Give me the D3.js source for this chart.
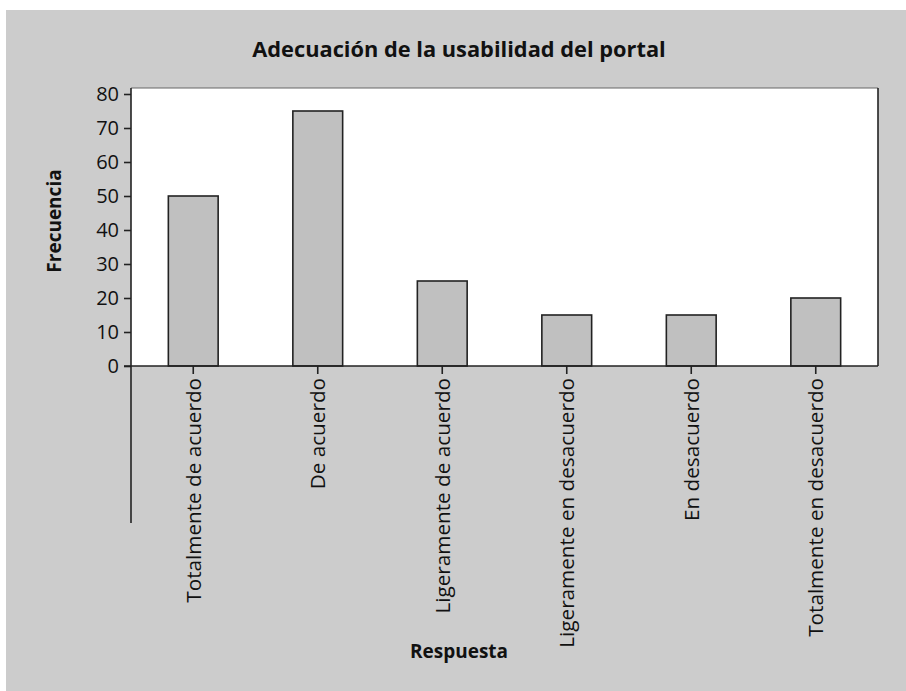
<!DOCTYPE html>
<html>
<head>
<meta charset="utf-8">
<script src="https://cdn.jsdelivr.net/npm/d3@7/dist/d3.min.js"></script>
<style>
  html, body { margin: 0; padding: 0; background: #ffffff; }
  svg { display: block; }
  text { font-family: "Open Sans", "Noto Sans", sans-serif; fill: #111; }
</style>
</head>
<body>
<svg id="chart" width="906" height="691"></svg>
<script>
const categories = [
  "Totalmente de acuerdo",
  "De acuerdo",
  "Ligeramente de acuerdo",
  "Ligeramente en desacuerdo",
  "En desacuerdo",
  "Totalmente en desacuerdo"
];
const frequencies = [50, 75, 25, 15, 15, 20];
const yTicks = [0, 10, 20, 30, 40, 50, 60, 70, 80];
const title = "Adecuación de la usabilidad del portal";
const xTitle = "Respuesta";
const yTitle = "Frecuencia";

const svg = d3.select("#chart");
const plotLeft = 131, plotRight = 878, plotTop = 88, zeroY = 366;

svg.append("rect").attr("x", 6).attr("y", 10).attr("width", 900).attr("height", 681).attr("fill", "#cccccc");

const x = d3.scaleBand().domain(categories).range([plotLeft, plotRight]).paddingInner(0.6).paddingOuter(0.3);
const y = d3.scaleLinear().domain([0, 80]).range([zeroY, 94]);

// plot area
svg.append("rect").attr("x", plotLeft).attr("y", plotTop).attr("width", plotRight - plotLeft).attr("height", zeroY - plotTop)
  .attr("fill", "#ffffff");
svg.append("line").attr("x1", plotLeft).attr("x2", plotRight).attr("y1", plotTop).attr("y2", plotTop)
  .attr("stroke", "#666").attr("stroke-width", 1.2);
svg.append("line").attr("x1", plotRight).attr("x2", plotRight).attr("y1", plotTop).attr("y2", zeroY)
  .attr("stroke", "#222").attr("stroke-width", 1.6);

// bars
svg.selectAll("rect.bar").data(frequencies).join("rect").attr("class", "bar")
  .attr("x", (d, i) => x(categories[i]))
  .attr("y", d => y(d))
  .attr("width", x.bandwidth())
  .attr("height", d => y(0) - y(d))
  .attr("fill", "#c0c0c0").attr("stroke", "#222").attr("stroke-width", 1.6);

// y axis
const yAxis = d3.axisLeft(y).tickValues(yTicks).tickSize(7).tickPadding(5).tickFormat(d3.format("d"));
const gy = svg.append("g").attr("transform", `translate(${plotLeft},0)`).call(yAxis);
gy.select(".domain").remove();
gy.selectAll(".tick line").attr("stroke", "#222").attr("stroke-width", 1.6);
gy.selectAll(".tick text").attr("font-size", 20).attr("font-family", "Open Sans, sans-serif").attr("fill", "#111");
svg.append("line").attr("x1", plotLeft).attr("x2", plotLeft).attr("y1", plotTop).attr("y2", 523)
  .attr("stroke", "#222").attr("stroke-width", 1.6);

// x axis
const xAxis = d3.axisBottom(x).tickSize(8).tickPadding(4);
const gx = svg.append("g").attr("transform", `translate(0,${zeroY})`).call(xAxis);
gx.select(".domain").remove();
svg.append("line").attr("x1", plotLeft - 7).attr("x2", plotRight).attr("y1", zeroY).attr("y2", zeroY)
  .attr("stroke", "#222").attr("stroke-width", 1.6);
gx.selectAll(".tick line").attr("stroke", "#222").attr("stroke-width", 1.6);
gx.selectAll(".tick text")
  .attr("font-size", 20.7).attr("font-family", "Open Sans, sans-serif").attr("fill", "#111")
  .attr("transform", "rotate(-90)")
  .attr("text-anchor", "end")
  .attr("x", -12).attr("y", 0).attr("dy", "0.35em");

// titles
svg.append("text").attr("x", 459).attr("y", 57).attr("text-anchor", "middle")
  .attr("font-size", 21.8).attr("font-weight", "bold").text(title);
svg.append("text").attr("x", 459).attr("y", 658).attr("text-anchor", "middle")
  .attr("font-size", 19).attr("font-weight", "bold").text(xTitle);
svg.append("text").attr("transform", "translate(61,221) rotate(-90)").attr("text-anchor", "middle")
  .attr("font-size", 19).attr("font-weight", "bold").text(yTitle);
</script>
</body>
</html>
